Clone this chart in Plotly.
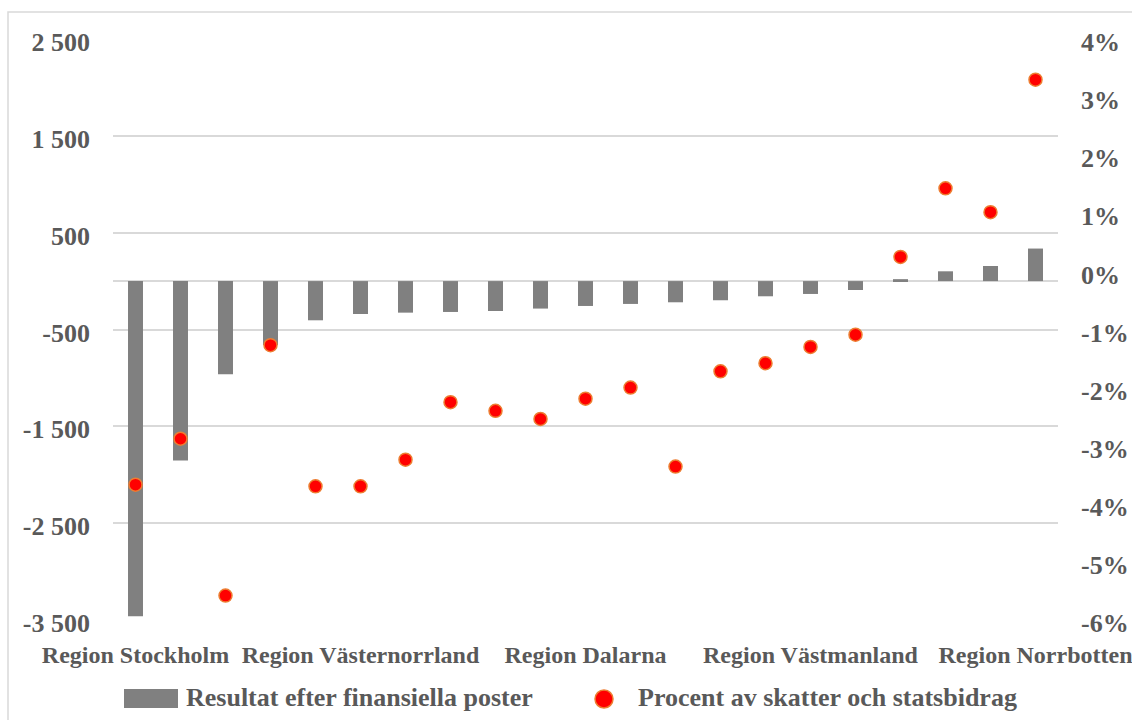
import plotly.graph_objects as go

regions = [
    "Region Stockholm", "Västra Götalandsregionen", "Region Skåne", "Region Östergötland",
    "Region Uppsala", "Region Västernorrland", "Region Sörmland", "Region Gävleborg",
    "Region Värmland", "Region Örebro län", "Region Dalarna", "Region Kalmar län",
    "Region Jämtland Härjedalen", "Region Kronoberg", "Region Blekinge", "Region Västmanland",
    "Region Halland", "Region Jönköpings län", "Region Gotland", "Region Västerbotten",
    "Region Norrbotten",
]
resultat = [-3462, -1854, -963, -660, -405, -340, -326, -319, -309, -284, -257,
            -236, -219, -198, -157, -133, -92, 20, 101, 156, 336]
procent = [-3.67, -2.88, -5.58, -1.27, -3.70, -3.70, -3.24, -2.25, -2.40, -2.54, -2.19,
           -2.00, -3.36, -1.72, -1.58, -1.30, -1.09, 0.25, 1.43, 1.02, 3.30]

shown_labels = ["Region Stockholm", "Region Västernorrland", "Region Dalarna",
                "Region Västmanland", "Region Norrbotten"]
left_ticks = [-3500, -2500, -1500, -500, 500, 1500, 2500]
left_ticktext = ["-3 500", "-2 500", "-1 500", "-500", "500", "1 500", "2 500"]
right_ticks = [-6, -5, -4, -3, -2, -1, 0, 1, 2, 3, 4]
right_ticktext = ["-6%", "-5%", "-4%", "-3%", "-2%", "-1%", "0%", "1%", "2%", "3%", "4%"]
legend_names = ["Resultat efter finansiella poster", "Procent av skatter och statsbidrag"]

TXT = "#595959"
GRID = "#D9D9D9"
FONT = "Liberation Serif"
W, H = 1132, 720
# target plot area in screen pixels: x 113..1058, y 39..620
ML, MT = 113, 39
MR = W - 1058
MB = H - 620
PW, PH = W - ML - MR, H - MT - MB


def px_x(px):
    return (px - ML) / PW


def px_y(py):
    return (H - MB - py) / PH


fig = go.Figure()
fig.add_trace(go.Bar(
    x=regions, y=resultat, name=legend_names[0],
    marker=dict(color="#808080", line=dict(width=0)),
    yaxis="y", showlegend=False,
))
fig.add_trace(go.Scatter(
    x=regions, y=procent, name=legend_names[1], mode="markers",
    marker=dict(color="#FF0000", size=13, line=dict(color="#ED7D31", width=1.5)),
    yaxis="y2", showlegend=False,
))

shapes = [
    # outer chart border
    dict(type="rect", xref="paper", yref="paper",
         x0=px_x(8), x1=px_x(1150), y0=px_y(745), y1=px_y(12),
         line=dict(color=GRID, width=1.5), fillcolor="rgba(0,0,0,0)", layer="below"),
    # legend symbols
    dict(type="rect", xref="paper", yref="paper",
         x0=px_x(124), x1=px_x(178), y0=px_y(708), y1=px_y(689),
         line=dict(width=0), fillcolor="#808080"),
    dict(type="circle", xref="paper", yref="paper",
         x0=px_x(595), x1=px_x(613), y0=px_y(708), y1=px_y(690),
         line=dict(color="#ED7D31", width=1.5), fillcolor="#FF0000"),
]
annotations = [
    dict(text=legend_names[0], xref="paper", yref="paper", x=px_x(184), y=px_y(697),
         xanchor="left", yanchor="middle", showarrow=False,
         font=dict(family=FONT, size=26, color=TXT, weight="bold")),
    dict(text=legend_names[1], xref="paper", yref="paper", x=px_x(636), y=px_y(697),
         xanchor="left", yanchor="middle", showarrow=False,
         font=dict(family=FONT, size=26, color=TXT, weight="bold")),
]

fig.update_layout(
    width=W, height=H,
    margin=dict(l=ML, r=MR, t=MT, b=MB, autoexpand=False),
    paper_bgcolor="white", plot_bgcolor="white",
    bargap=0.667,
    showlegend=False,
    xaxis=dict(
        type="category", tickvals=shown_labels, ticktext=shown_labels,
        range=[-0.5, len(regions) - 0.5],
        showgrid=False, showline=False, ticks="", ticklabelstandoff=18,
        tickfont=dict(family=FONT, size=24, color=TXT, weight="bold"),
        tickangle=0, automargin=False,
    ),
    yaxis=dict(
        range=[-3500, 2500], tickvals=left_ticks, ticktext=left_ticktext,
        showgrid=True, gridcolor=GRID, gridwidth=1.5,
        zeroline=True, zerolinecolor=GRID, zerolinewidth=1.5,
        showline=False, ticks="", ticklabelstandoff=22, ticklabelshift=3,
        automargin=False,
        tickfont=dict(family=FONT, size=26, color=TXT, weight="bold"),
    ),
    yaxis2=dict(
        range=[-6, 4], tickvals=right_ticks, ticktext=right_ticktext,
        overlaying="y", side="right", showgrid=False, zeroline=False,
        showline=False, ticks="", ticklabelstandoff=22, ticklabelshift=3,
        automargin=False,
        tickfont=dict(family=FONT, size=26, color=TXT, weight="bold"),
    ),
    shapes=shapes,
    annotations=annotations,
)

fig.write_html(
    "out.html",
    config={"displayModeBar": False},
    post_script="document.body.style.margin='0';document.body.style.overflow='hidden';",
)
